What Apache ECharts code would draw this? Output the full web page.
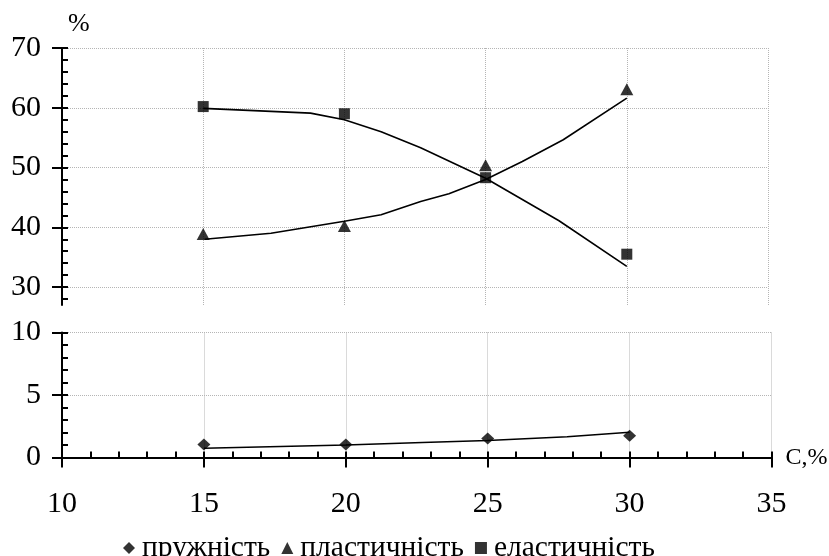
<!DOCTYPE html>
<html>
<head>
<meta charset="utf-8">
<script src="https://cdn.jsdelivr.net/npm/echarts@6/dist/echarts.min.js"></script>
<style>html,body{margin:0;padding:0;background:#fff}#c{width:829px;height:556px}</style>
</head>
<body>
<div id="c"></div>
<script>
// ---- data ----
const concentration = [15, 20, 25, 30];
const springiness = [1.05, 1.05, 1.53, 1.74];
const plasticity = [38.9, 40.2, 50.4, 63.1];
const elasticity = [60.2, 59.0, 48.3, 35.5];
// trend lines (vertices)
const springTrendX = [15, 20, 22.7, 25, 27.8, 30];
const springTrendY = [0.74, 1.0, 1.2, 1.36, 1.66, 2.02];
const plastTrendX = [15.05, 17.4, 20, 21.3, 22.7, 23.7, 25, 26.3, 27.75, 30];
const plastTrendY = [38.0, 39.0, 41.0, 42.1, 44.3, 45.6, 48.0, 51.0, 54.65, 61.6];
const elastTrendX = [15, 18.8, 20, 21.3, 22.7, 23.85, 25, 27.6, 30];
const elastTrendY = [59.9, 59.1, 58.0, 56.0, 53.3, 50.75, 48.2, 41.1, 33.45];
const topYLabels = [30, 40, 50, 60, 70];
const topYMinor = [28, 30, 32, 34, 36, 38, 40, 42, 44, 46, 48, 50, 52, 54, 56, 58, 60, 62, 64, 66, 68, 70];
const names = ['пружність', 'пластичність', 'еластичність'];

const zip = (xs, ys) => xs.map((x, i) => [x, ys[i]]);
const FONT = 'Liberation Serif';
const grid = '#b5b5b5';

const chart = echarts.init(document.getElementById('c'));
chart.setOption({
  animation: false,
  textStyle: { fontFamily: FONT, color: '#000' },
  grid: [
    { left: 62, top: 48, width: 706, height: 257 },
    { left: 62, top: 332.5, width: 709.5, height: 125 }
  ],
  legend: {
    data: names,
    left: 118, top: 528,
    itemWidth: 12, itemHeight: 12, itemGap: 11,
    textStyle: { fontFamily: FONT, fontSize: 29.5, color: '#000', padding: [0, 0, 0, 2] }
  },
  xAxis: [
    { gridIndex: 0, type: 'value', min: 10, max: 35, interval: 5, position: 'bottom',
      axisLine: { show: false }, axisTick: { show: false }, axisLabel: { show: false },
      splitLine: { show: true, lineStyle: { color: grid, type: 'dotted' } } },
    { gridIndex: 1, type: 'value', min: 10, max: 35, interval: 5, position: 'bottom',
      axisLine: { show: true, onZero: false, lineStyle: { color: '#000', width: 2 } },
      axisTick: { show: true, length: 10, lineStyle: { color: '#000', width: 2 } },
      axisLabel: { fontFamily: FONT, fontSize: 30, color: '#000', margin: 32 },
      splitLine: { show: true, lineStyle: { color: grid, type: 'dotted' } },
      name: 'C,%', nameLocation: 'end', nameGap: 14,
      nameTextStyle: { fontFamily: FONT, fontSize: 24, color: '#000', verticalAlign: 'middle' } },
    { gridIndex: 1, type: 'value', min: 10, max: 35, interval: 1, position: 'bottom', offset: 0,
      axisLine: { show: false, onZero: false }, axisLabel: { show: false }, splitLine: { show: false },
      axisTick: { show: true, inside: true, length: 6, lineStyle: { color: '#000', width: 2 } } }
  ],
  yAxis: [
    { gridIndex: 0, type: 'value', min: 27, max: 70, position: 'left',
      axisLine: { show: true, onZero: false, lineStyle: { color: '#000', width: 2 } },
      axisTick: { show: true, length: 10, customValues: topYLabels, lineStyle: { color: '#000', width: 2 } },
      axisLabel: { customValues: topYLabels, fontFamily: FONT, fontSize: 30, color: '#000', margin: 21 },
      splitLine: { show: true, lineStyle: { color: grid, type: 'dotted' } },
      name: '%', nameLocation: 'end', nameGap: 11,
      nameTextStyle: { fontFamily: FONT, fontSize: 26, color: '#000', align: 'left', padding: [0, 0, 0, 6] } },
    { gridIndex: 0, type: 'value', min: 27, max: 70, position: 'left', offset: 0,
      axisLine: { show: false, onZero: false }, axisLabel: { show: false }, splitLine: { show: false },
      axisTick: { show: true, inside: true, length: 6, customValues: topYMinor, lineStyle: { color: '#000', width: 2 } } },
    { gridIndex: 1, type: 'value', min: 0, max: 10, interval: 5, position: 'left',
      axisLine: { show: true, onZero: false, lineStyle: { color: '#000', width: 2 } },
      axisTick: { show: true, length: 10, lineStyle: { color: '#000', width: 2 } },
      axisLabel: { fontFamily: FONT, fontSize: 30, color: '#000', margin: 21 },
      splitLine: { show: true, lineStyle: { color: grid, type: 'dotted' } } },
    { gridIndex: 1, type: 'value', min: 0, max: 10, interval: 1, position: 'left', offset: 0,
      axisLine: { show: false, onZero: false }, axisLabel: { show: false }, splitLine: { show: false },
      axisTick: { show: true, inside: true, length: 6, lineStyle: { color: '#000', width: 2 } } }
  ],
  series: [
    { name: 'trend-spring', type: 'line', xAxisIndex: 1, yAxisIndex: 2, data: zip(springTrendX, springTrendY),
      showSymbol: false, lineStyle: { color: '#000', width: 1.6 }, silent: true },
    { name: 'trend-plast', type: 'line', xAxisIndex: 0, yAxisIndex: 0, data: zip(plastTrendX, plastTrendY),
      showSymbol: false, lineStyle: { color: '#000', width: 1.6 }, silent: true },
    { name: 'trend-elast', type: 'line', xAxisIndex: 0, yAxisIndex: 0, data: zip(elastTrendX, elastTrendY),
      showSymbol: false, lineStyle: { color: '#000', width: 1.6 }, silent: true },
    { name: names[0], type: 'scatter', xAxisIndex: 1, yAxisIndex: 2, data: zip(concentration, springiness),
      symbol: 'diamond', symbolSize: [13, 12], itemStyle: { color: '#000' } },
    { name: names[1], type: 'scatter', xAxisIndex: 0, yAxisIndex: 0, data: zip(concentration, plasticity),
      symbol: 'triangle', symbolSize: [13, 12], itemStyle: { color: '#000' } },
    { name: names[2], type: 'scatter', xAxisIndex: 0, yAxisIndex: 0, data: zip(concentration, elasticity),
      symbol: 'rect', symbolSize: [11, 11], itemStyle: { color: '#000' } }
  ]
});
</script>
</body>
</html>
